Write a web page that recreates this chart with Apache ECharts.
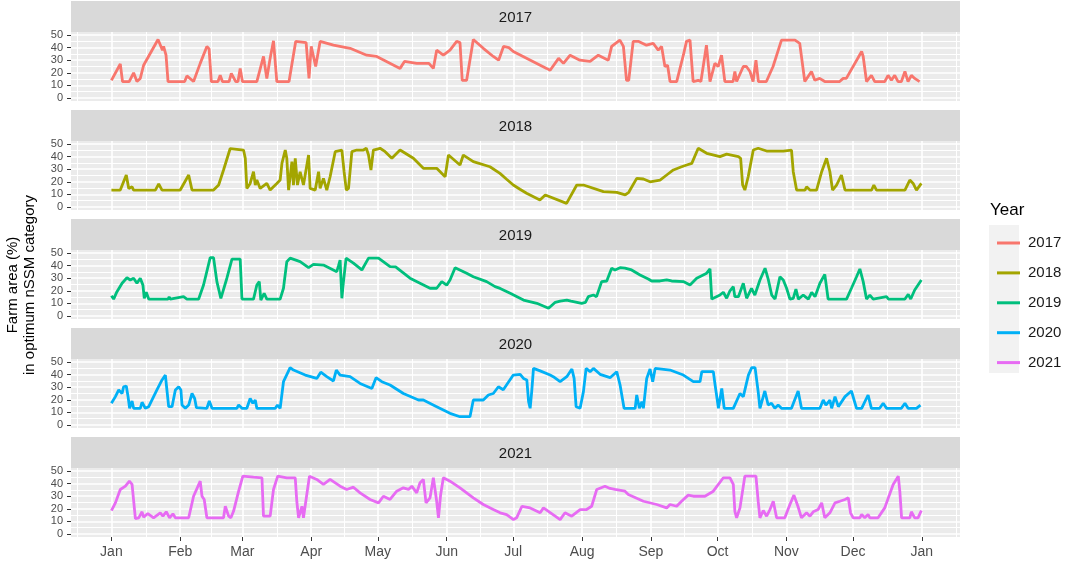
<!DOCTYPE html>
<html><head><meta charset="utf-8">
<script src="https://cdn.jsdelivr.net/npm/echarts@6/dist/echarts.min.js"></script>
<style>html,body{margin:0;padding:0;background:#fff}#c{width:1065px;height:564px}</style>
</head><body><div id="c"></div><script>
const years = ['2017', '2018', '2019', '2020', '2021'];
const colors = ['#F8766D', '#A3A500', '#00BF7D', '#00B0F6', '#E76BF3'];
// day-of-year of month starts (tick positions) and their labels
const monthStarts = [0, 31, 59, 90, 120, 151, 181, 212, 243, 273, 304, 334, 365];
const monthLabels = ['Jan', 'Feb', 'Mar', 'Apr', 'May', 'Jun', 'Jul', 'Aug', 'Sep', 'Oct', 'Nov', 'Dec', 'Jan'];
const yTicks = [0, 10, 20, 30, 40, 50];
const yMinor = [5, 15, 25, 35, 45];

// [day of year, farm area %]
const points2017 = [[0,14],[4,27],[5,13],[8,13],[10,20],[11.5,13],[13,15.5],[14.5,26],[21,46.5],[23,38],[23.5,41],[24.6,34],[25.5,13],[33,13],[34,17.5],[37,13],[40,27.5],[43,41],[44,39],[45,13],[48,13],[49,18],[50,13],[53,13],[54,19.5],[56,13],[57,13],[58,23.5],[59,13],[65.5,13],[68.5,33],[69,27],[70,15.5],[71.5,31.5],[73,45.5],[74.5,13],[80,13],[83,45],[87.7,44],[89,15.5],[90,41],[92,25],[94,45],[100,42],[107.5,39.5],[115,34],[119.5,33],[130,23.5],[132,29],[137.5,27.5],[143,27.5],[145,23.5],[146.5,38],[149.5,34],[152.5,38],[155.5,45],[157,44],[158,14],[160,14],[163,46.5],[167.5,39.5],[172,33],[174.4,30],[176.6,41],[179,40],[181,37],[196,23.5],[197.6,22],[201.4,31.5],[203.6,27.5],[206.6,34],[211,30],[215.6,29],[219.3,34],[223.8,30],[225.3,41],[229,46],[230.6,41],[232,14],[233,14],[235,45],[237.5,45],[241,42],[244,43.5],[246.3,38],[247.8,41],[249.3,25],[250.5,26],[251.6,13],[254.6,13],[257.6,34],[259,45],[260.6,46],[262,13],[264.3,14],[265.5,13],[268,42],[269.6,13],[271.8,27.5],[273.3,25],[274.8,34],[276.3,13],[280,13],[280.8,21],[281.6,13],[284.6,25],[286,25],[287.6,21],[289,13],[290.3,30],[291.4,13],[295,13],[298,25],[301.8,46],[307.9,46],[310,43.5],[312.3,13],[315.3,21],[316.8,14],[319,15.5],[321.3,13],[328,13],[329.6,15.5],[331,15.5],[337.9,37],[338.6,33],[340.1,13],[342.3,18],[343.8,13],[348.3,13],[349.8,18],[351.3,14],[352.8,18],[354.3,13],[355.8,13],[357.4,21],[358.8,13],[360.3,18],[361.8,15.5],[364,13]];
const points2018 = [[0,13.4],[4,13.4],[6.7,25.4],[7.8,14.7],[9.3,16],[10,13.4],[19.8,13.4],[21.3,18.2],[22.8,13.4],[31,13.4],[34.8,25.4],[36.3,13.4],[46,13.4],[48.3,17.4],[50.5,29.4],[53.5,46.5],[59.5,45.3],[60.3,38.7],[61,14.7],[62.5,18.7],[64,28],[64.8,17.4],[65.5,21.4],[67,14.7],[70,18.7],[71.5,13.4],[74.5,18.7],[76,21.4],[76.8,34.7],[78.3,45.3],[79,38.7],[79.8,13.4],[81.3,36],[82,17.4],[82.8,38.7],[83.8,17.4],[85,28],[86.5,17.4],[88.8,41.3],[89.5,14.7],[91.8,13.4],[93.3,28],[94,14.7],[95.5,22.7],[97,13.4],[98.5,24],[100.8,44],[103.8,45.3],[104.8,28],[105.8,13.4],[106.8,14.7],[108.3,44],[110.5,45.3],[113.5,45.3],[114.8,46.7],[115.8,41.3],[116.9,29.4],[118,45.3],[121,46.7],[123.3,44],[126.3,38.7],[130,45.3],[136,38.7],[140.5,30.7],[146.5,30.7],[150.3,24],[151.8,41.3],[157,33.4],[158.5,41.3],[163,36],[170.5,32],[175,26.7],[178,22],[181,17.4],[184,14],[187,10.8],[193,5.5],[195.4,9.5],[205,2.8],[209.6,17.4],[212.6,17.4],[221.6,12.1],[227.6,11.6],[231.4,9.5],[233,11.6],[236.6,22.7],[239.6,22.2],[242.6,20],[247.1,21.4],[250.1,25.4],[253.1,29.4],[256.8,32],[259.1,33.4],[261.4,34.7],[264.3,46.7],[268.1,42.7],[274.1,40],[277.1,42],[282.4,40],[283.4,38.7],[284.3,17.4],[285.3,13.4],[286.8,24],[289.1,45.3],[291.3,46.7],[295.1,44.5],[302.6,44.5],[306.3,45.3],[307.1,28],[308.6,13.4],[312.4,13.4],[313.1,16],[314.6,13.4],[317.6,13.4],[319.9,28],[322.1,38.7],[323.6,28],[324.8,13.4],[326.6,17.4],[328.8,25.4],[330.4,13.4],[342.4,13.4],[343.4,17.4],[344.6,13.4],[357.4,13.4],[359.6,21.4],[361.1,18.7],[362.6,13.4],[364.8,18.7]];
const points2019 = [[0,16],[1,13.4],[2.5,19.3],[4.8,26],[7,30.4],[8.5,28.6],[10,30],[11.5,26],[13,30],[14.2,24.5],[14.8,14],[15.7,18.8],[16.8,13.4],[25.5,13.4],[26,15],[26.5,13.4],[32.5,15.3],[34,13.4],[39.3,13.4],[41.5,24.6],[44.5,46.4],[46,46.4],[47.5,27.3],[49.3,14],[52,30],[54.3,45.3],[58,45.3],[58.8,13.4],[64,13.4],[65.5,24.6],[66.6,27.3],[67.3,12.6],[68.8,18],[70,13.4],[76,13.4],[77.5,22],[79,43.2],[80.5,46],[85,43.2],[88.8,38.4],[91,41],[95.5,40.5],[101.5,35.2],[102.3,40],[103,44.5],[103.8,14],[104.5,27],[105.7,46],[109,42],[112.8,36.6],[115.8,46],[120.3,46],[125.5,39.2],[128,39],[134.5,30],[143.5,22],[146.5,22],[148.8,27.3],[151,24.5],[152.5,28.6],[154.8,38.4],[160,34],[163,31.2],[169,27.3],[172.8,23.3],[175.1,21.9],[179.6,18],[185.6,12.6],[191.6,10],[196.9,6],[199.9,10.8],[202.1,11.8],[205.1,12.6],[207,11.8],[211.8,10],[213.5,10.8],[214.8,15.3],[217.1,16.6],[218.5,15.3],[220.8,27.3],[223.1,27.8],[225.3,38],[226.8,36.6],[229.1,38.4],[231.3,38],[234.3,36.6],[238.1,32.6],[241.8,29.4],[243.3,27.8],[247.1,27.8],[250.1,28.6],[252.3,27.8],[257.6,27.3],[260.6,24.6],[263.6,30],[268.1,34],[269.6,37.4],[270.4,13.4],[274.1,16.6],[275.6,18.8],[277.1,14],[278.6,20],[280.1,23.3],[280.8,15.3],[282.4,15.3],[284.6,26],[286.1,14],[288.3,22],[289.8,16.6],[292.1,28.6],[294.4,38],[295.9,28.6],[297.4,16.6],[298.9,13.4],[301.1,31.2],[302.6,28.6],[304.1,22],[305.6,13.4],[307.1,14],[308.3,21.4],[309.4,13.4],[311.6,16.6],[313.9,13.4],[315.4,18.8],[316.9,15.3],[319.1,26],[321.3,33.1],[322.8,13.4],[331.1,13.4],[333.3,22],[335.6,31.2],[337.1,37.4],[338.6,27.3],[340.1,13.4],[341.6,16.6],[343.1,13.4],[349.1,15.3],[350,13.4],[357.4,13.4],[358.9,17.2],[360,13.4],[361.8,20.6],[364.8,28.6]];
const points2020 = [[0,17.2],[1.8,22.5],[3.3,27.8],[4,29],[4.8,25],[5.5,30.4],[6.7,31],[7.5,22.5],[8.2,13.2],[9.3,19],[10,13.2],[13,13.2],[13.8,18],[15.3,13.2],[16.8,14.5],[20.5,27.8],[22.8,35.8],[24.3,39.7],[25,27.8],[25.8,14.5],[27.3,14.5],[28.8,27.8],[30.3,30.4],[31.3,27.8],[31.8,15.8],[33.3,13.2],[34.8,15.8],[36.3,25],[37.5,21],[38.3,13.7],[43,13.2],[44.1,19],[45.3,13.2],[56.5,13.2],[57.3,15.8],[58.8,13.2],[61,13.2],[62.5,21],[63.7,17.2],[64.8,19.8],[65.5,13.2],[73.8,13.2],[74.8,15.8],[76,13.2],[77.5,34.4],[80.5,45.6],[82,43.7],[87.3,39.7],[92.5,37],[94.3,42],[97,38.4],[100,35],[101.3,43.7],[103,39.7],[107.5,38.4],[112,33],[117.3,29],[119.2,37.6],[121.8,34.4],[125.5,31.8],[131.5,25],[138.3,19.8],[140.5,19.8],[146.5,14.5],[152.5,9.2],[157,6.5],[161.5,6.5],[163,19.8],[167.5,19.8],[169.8,23.8],[172,25],[174.3,30.4],[176.5,28],[181,39.7],[184.1,40.3],[185.6,37],[187.1,35.8],[187.9,18.5],[188.6,13.2],[189.3,26.5],[190.1,45],[193.1,43],[197.6,39.7],[199,38.4],[202.1,34.4],[205.1,38.4],[207.4,44.5],[208.4,37],[209.3,14.5],[211.1,13.2],[212.6,26.5],[213.8,45],[215.6,42.4],[217.1,45],[220.1,40.3],[224.6,37.6],[227.6,42.4],[229.1,31.8],[230.9,13.2],[235.9,13.2],[236.6,23.8],[237.8,13.2],[238.9,18.5],[239.6,13.2],[241.1,37],[242.6,44.5],[243.8,34.4],[244.9,45],[251.6,43.7],[257.6,39.7],[262.1,34.4],[265.1,34.4],[265.9,42.4],[271.1,42.4],[271.9,31.8],[273.4,13.2],[274.9,29],[276,13.2],[280.1,13.2],[283.1,25],[284.6,22.5],[286.9,39.7],[288.4,45.6],[289.9,45.6],[291.3,26.5],[292.1,13.2],[294.3,27],[295.8,15.8],[297.3,17.2],[298.8,13.2],[300.3,15.8],[301.8,13.2],[306.3,13.2],[309.3,27],[310.8,13.2],[319.1,13.2],[320.6,19.8],[321.8,15.8],[323.6,19.8],[324.4,13.2],[325.9,22.5],[327.4,14.5],[330.4,22.5],[333.3,27],[335.6,13.2],[337.9,13.2],[340.8,23.8],[342.3,13.2],[346,13.2],[347.6,17.2],[349.1,13.2],[355.8,13.2],[357.4,17.2],[358.8,13.2],[362.6,13.2],[364.4,15.8]];
const points2021 = [[0,18.6],[1.8,24.7],[4,35.4],[6.3,38],[8.1,42],[9.3,39.4],[10.8,12.2],[12.3,12.8],[13.8,17.6],[14.5,13.3],[16.4,16.2],[19,12.8],[22,16.8],[23.2,14.1],[24.7,17.6],[26.2,12.8],[27.7,16],[28.8,12.8],[34.8,12.8],[37,30],[40,42],[40.8,30],[41.8,27.4],[43,12.8],[50.5,12.8],[51.3,22],[52.8,14.1],[53.8,12.8],[55,18],[57.3,34],[59.2,46],[64,45.2],[67.8,44.7],[68.5,14.1],[71.5,14.1],[73,35.4],[74.9,46],[79,44.7],[82.8,44.7],[83.5,26],[84.3,12.8],[85.8,22],[86.5,12.8],[88,31.4],[89.2,46],[92.5,43.4],[95.5,39.4],[98.5,43.4],[103,38],[106,35.4],[109,37.2],[112,32.7],[116.5,27.4],[120.3,24.7],[122.5,30],[125.5,27.4],[128.5,34],[131.5,36.7],[133.8,35.4],[135.3,38],[137.5,32.7],[139,40.7],[140.5,43.4],[141.7,24.7],[143.5,28.7],[145,44.7],[146.5,26],[147.3,12.8],[148.3,31.4],[149.5,44.7],[152.5,42],[157,36.7],[163,28.7],[167.5,23.4],[172,19.4],[175.1,16.8],[178,15.4],[181.1,11.4],[182.5,12.8],[184.9,22],[188.6,20.7],[193.1,16.8],[194.6,20.7],[202.1,11.4],[204.3,16.8],[207.3,14.1],[211.1,19.4],[214,19.4],[216.3,22],[218.6,35.4],[222.3,38],[224.6,36.2],[226.8,35.4],[231.3,34],[232.8,31.4],[239.6,26],[245.6,23.4],[250.1,20.7],[251.6,23.4],[254.6,22],[256.8,26],[259.8,30.9],[262.1,30],[267.3,30],[271.1,34],[275.6,44.7],[278.6,44.7],[280.1,39.4],[280.8,18],[281.6,12.8],[283.1,20.7],[285.3,46],[290.3,46],[291.3,26],[292.1,12.8],[293.6,18.6],[295.1,14.1],[296.6,19.4],[298.1,26],[299.6,12.8],[303.3,12.8],[305.6,23.4],[307.4,30.9],[309.2,22],[310.8,12.8],[313.1,16.8],[314.6,14.1],[316.1,17.6],[318.3,19.4],[319.9,24.7],[321.3,12.8],[323.6,16.8],[325.9,24.7],[328.1,26],[330.4,27.4],[331.9,28.7],[332.9,16.8],[334.1,12.8],[337.1,12.8],[337.9,15.4],[339.3,12.8],[340.8,15.4],[341.6,12.8],[345.3,12.8],[348.3,20.7],[352.1,39.4],[354.4,46],[355.1,33.9],[355.9,12.8],[359.6,12.8],[360.3,17.6],[361.8,12.8],[363.3,12.8],[364.8,18.6]];

const seriesPoints = [points2017, points2018, points2019, points2020, points2021];

// minor x gridlines: midpoints between month starts (incl. one before / after)
const extStarts = [-31].concat(monthStarts, [396]);
const xMinor = [];
for (let i = 0; i < extStarts.length - 1; i++) xMinor.push((extStarts[i] + extStarts[i + 1]) / 2);

const FONT = 'Liberation Sans, Arial, sans-serif';
const LEFT = 71, PW = 889, TOP0 = 32, STEP = 109, PH = 69, STRIP = 31;
const XMIN = -18.2, XMAX = 382.2, YMIN = -2.5, YMAX = 52.5;

const grids = [], xAxes = [], yAxes = [], series = [], graphics = [];
years.forEach((yr, k) => {
  const top = TOP0 + STEP * k;
  const last = k === years.length - 1;
  grids.push({left: LEFT, top: top, width: PW, height: PH, show: true,
    backgroundColor: '#EBEBEB', borderWidth: 0, containLabel: false, outerBoundsMode: 'none'});
  xAxes.push({gridIndex: k, type: 'value', min: XMIN, max: XMAX, position: 'bottom',
    axisLine: {show: false, onZero: false},
    axisTick: {show: last, customValues: monthStarts, length: 4, lineStyle: {color: '#333333', width: 1}},
    axisLabel: {show: last, customValues: monthStarts, margin: 8, color: '#4D4D4D', fontSize: 14, fontFamily: FONT,
      formatter: v => monthLabels[monthStarts.indexOf(Math.round(v))]},
    splitLine: {show: true, lineStyle: {color: '#FFFFFF', width: 1.6}}});
  xAxes.push({gridIndex: k, type: 'value', min: XMIN, max: XMAX, position: 'top',
    axisLine: {show: false, onZero: false},
    axisTick: {show: false, customValues: xMinor},
    axisLabel: {show: false},
    splitLine: {show: true, lineStyle: {color: '#FFFFFF', width: 1}}});
  yAxes.push({gridIndex: k, type: 'value', min: YMIN, max: YMAX, position: 'left',
    axisLine: {show: false, onZero: false},
    axisTick: {show: true, customValues: yTicks, length: 4, lineStyle: {color: '#333333', width: 1}},
    axisLabel: {customValues: yTicks, margin: 8, color: '#4D4D4D', fontSize: 11, fontFamily: FONT},
    splitLine: {show: true, lineStyle: {color: '#FFFFFF', width: 1.6}}});
  yAxes.push({gridIndex: k, type: 'value', min: YMIN, max: YMAX, position: 'right',
    axisLine: {show: false, onZero: false},
    axisTick: {show: false, customValues: yMinor},
    axisLabel: {show: false},
    splitLine: {show: true, lineStyle: {color: '#FFFFFF', width: 1}}});
  series.push({name: yr, type: 'line', xAxisIndex: 2 * k, yAxisIndex: 2 * k,
    data: seriesPoints[k], showSymbol: false, symbol: 'none',
    color: colors[k], lineStyle: {width: 2.8, color: colors[k]}, z: 5});
  graphics.push({type: 'rect', shape: {x: LEFT, y: top - STRIP, width: PW, height: STRIP},
    style: {fill: '#D9D9D9'}, silent: true, z: 1});
  graphics.push({type: 'text', x: LEFT + PW / 2, y: top - STRIP / 2 + 1.5,
    style: {text: yr, fill: '#1A1A1A', font: '15px ' + FONT, textAlign: 'center', textVerticalAlign: 'middle'}, z: 2});
});

graphics.push({type: 'text', x: 21, y: 285, rotation: Math.PI / 2,
  style: {text: 'Farm area (%)\nin optimum nSSM category', fill: '#000000', font: '15px ' + FONT,
    textAlign: 'center', textVerticalAlign: 'middle', lineHeight: 17}});
graphics.push({type: 'text', x: 990, y: 210,
  style: {text: 'Year', fill: '#000000', font: '17px ' + FONT, textAlign: 'left', textVerticalAlign: 'middle'}});
graphics.push({type: 'rect', shape: {x: 989, y: 225, width: 30, height: 148},
  style: {fill: '#F2F2F2'}, silent: true, z: 0});

const chart = echarts.init(document.getElementById('c'), null, {renderer: 'canvas'});
chart.setOption({
  animation: false,
  backgroundColor: '#FFFFFF',
  grid: grids,
  xAxis: xAxes,
  yAxis: yAxes,
  series: series,
  legend: {data: years, orient: 'vertical', left: 992, top: 230.5, icon: 'rect',
    itemWidth: 23, itemHeight: 3, itemGap: 14.9,
    textStyle: {fontSize: 15, color: '#1A1A1A', fontFamily: FONT, padding: [0, 0, 0, 3], lineHeight: 15}},
  graphic: graphics
});
</script></body></html>
